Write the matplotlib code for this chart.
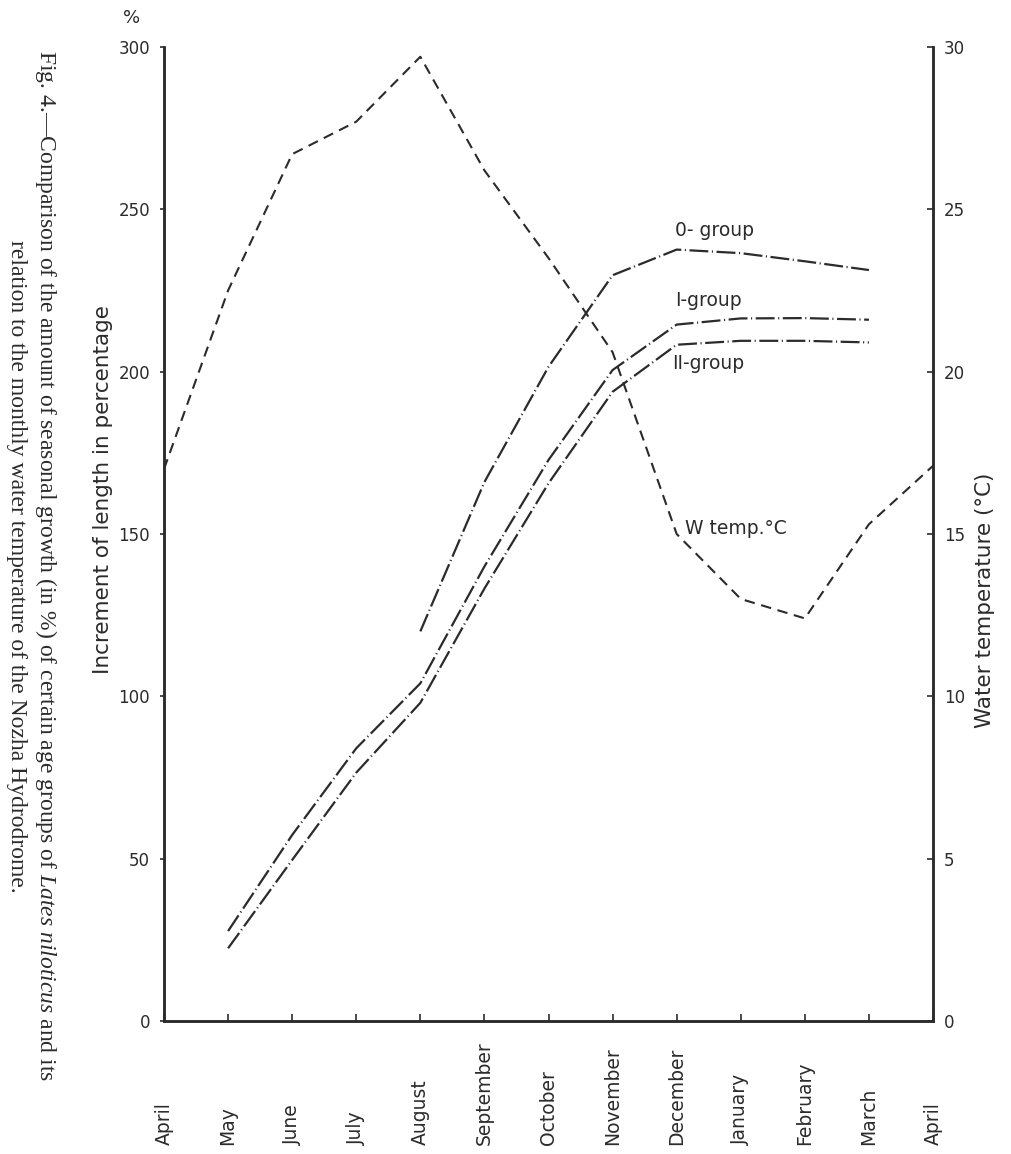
import numpy as np
import matplotlib
matplotlib.use("Agg")
import matplotlib.pyplot as plt
import matplotlib.transforms as mtransforms

# data (month 0 = April ... month 12 = April)
months = ["April", "May", "June", "July", "August", "September", "October",
          "November", "December", "January", "February", "March", "April"]
nan = np.nan
water_temp = [17.0, 22.5, 26.7, 27.7, 29.7, 26.2, 23.5, 20.6, 15.0, 13.0, 12.4, 15.3, 17.1]
group_0 = [nan, nan, nan, nan, 120.0, 166.0, 201.5, 229.7, 237.6, 236.5, 234.0, 231.3, nan]
group_I = [nan, 27.7, 57.3, 84.0, 104.0, 140.0, 172.8, 200.5, 214.5, 216.4, 216.5, 216.0, nan]
group_II = [nan, 22.4, 49.6, 76.5, 98.0, 133.2, 165.6, 193.8, 208.3, 209.5, 209.5, 209.0, nan]

pct_ticks = [0, 50, 100, 150, 200, 250, 300]
temp_ticks = [0, 5, 10, 15, 20, 25, 30]

ink = "#2b2b2b"
plt.rcParams["mathtext.fontset"] = "custom"
plt.rcParams["mathtext.it"] = "Liberation Serif:italic"
plt.rcParams["mathtext.rm"] = "Liberation Serif"

fig = plt.figure(figsize=(10.12, 11.54), dpi=100)
ax = fig.add_axes([164 / 1012, 1 - 1021 / 1154, (933 - 164) / 1012, (1021 - 47) / 1154])
ax2 = ax.twinx()

x = np.arange(len(months))

growth_style = dict(color=ink, linewidth=1.6, linestyle=(0, (8.5, 1.6, 0.5, 1.6)))
ax.plot(x, group_0, **growth_style)
ax.plot(x, group_I, **growth_style)
ax.plot(x, group_II, **growth_style)
ax2.plot(x, water_temp, color=ink, linewidth=1.5, linestyle=(0, (5, 3.2)))

ax.set_xlim(0, 12)
ax.set_ylim(0, 300)
ax2.set_ylim(0, 30)

# spines
for a in (ax, ax2):
    a.spines["top"].set_visible(False)
    for s in ("left", "right", "bottom"):
        a.spines[s].set_linewidth(1.8)
        a.spines[s].set_color(ink)

ax.set_yticks(pct_ticks)
ax.set_yticklabels([str(t) for t in pct_ticks])
ax.tick_params(axis="y", direction="out", length=3, width=1.2, pad=7,
               labelsize=12, colors=ink)
ax2.set_yticks(temp_ticks)
ax2.set_yticklabels([str(t) for t in temp_ticks])
ax2.tick_params(axis="y", direction="in", length=4, width=1.2, pad=8,
                labelsize=12, colors=ink)

ax.set_xticks(x)
ax.set_xticklabels([])
ax.tick_params(axis="x", direction="in", length=5, width=1.2, colors=ink)

trans = mtransforms.blended_transform_factory(ax.transData, ax.transAxes)
for i, m in enumerate(months):
    ax.text(x[i], -0.127, m, transform=trans, rotation=90, ha="center", va="bottom",
            fontsize=13.5, color=ink)

# axis titles
fig.text(103 / 1012, 1 - 490 / 1154, "Increment of length in percentage", rotation=90,
         ha="center", va="center", fontsize=15.5, color=ink)
fig.text(985 / 1012, 1 - 600 / 1154, "Water temperature (°C)", rotation=90,
         ha="center", va="center", fontsize=15.5, color=ink)
fig.text(132 / 1012, 1 - 18 / 1154, "%", ha="center", va="center", fontsize=13, color=ink)

# curve labels
ax.text(7.97, 243.6, "0- group", fontsize=13.5, color=ink, va="center")
ax.text(7.97, 222.0, "I-group", fontsize=13.5, color=ink, va="center")
ax.text(7.93, 202.6, "II-group", fontsize=13.5, color=ink, va="center")
ax.text(8.13, 151.8, "W temp.°C", fontsize=13.5, color=ink, va="center")

# caption (printed sideways on the page)
line1 = (r"Fig. 4.—Comparison of the amount of seasonal growth (in %) of certain age groups of "
         r"$\it{Lates\ niloticus}$ and its")
line2 = "relation to the monthly water temperature of the Nozha Hydrodrome."
fig.text(46 / 1012, 1 - 566 / 1154, line1, rotation=-90, ha="center", va="center",
         fontsize=17, family="Liberation Serif", color=ink)
fig.text(16 / 1012, 1 - 566 / 1154, line2, rotation=-90, ha="center", va="center",
         fontsize=17, family="Liberation Serif", color=ink)

fig.savefig("out.png", dpi=100, facecolor="white")
